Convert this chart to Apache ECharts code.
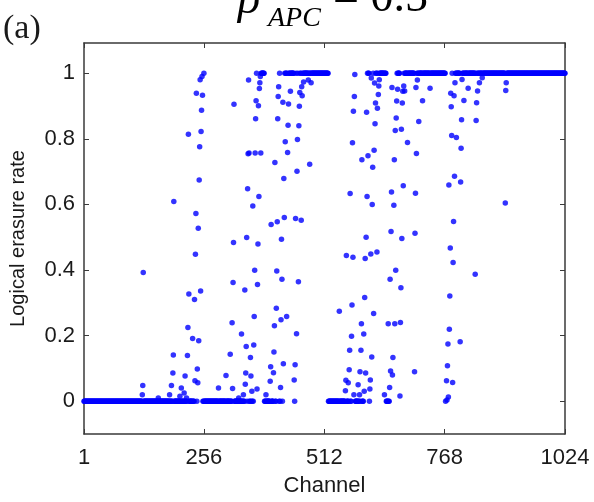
<!DOCTYPE html>
<html>
<head>
<meta charset="utf-8">
<script src="https://cdn.jsdelivr.net/npm/echarts@6/dist/echarts.min.js"></script>
<style>
  html, body { margin: 0; padding: 0; background: #fff; }
  #chart { width: 594px; height: 502px; }
</style>
</head>
<body>
<div id="chart"></div>
<script>
// Channel axis ticks and erasure-rate ticks
const channelTicks = [1, 256, 512, 768, 1024];
const rateTicks = [0, 0.2, 0.4, 0.6, 0.8, 1];

// Channel ranges whose logical erasure rate is 0 or 1
const zeroRuns = [[1, 244], [254, 363], [382, 425], [511, 597], [636, 650]];
const oneRuns = [[363, 384], [427, 520], [604, 643], [660, 769], [780, 1024]];

// Channels with an intermediate rate: [channel, rate]
const partialPoints = [
  [125, 0.02], [126, 0.048], [127, 0.392], [159, 0.01], [183, 0.02],
  [187, 0.048], [190, 0.086], [191, 0.141], [192, 0.609], [205, 0.015],
  [208, 0.040], [214, 0.025], [216, 0.077], [219, 0.01], [221, 0.139],
  [222, 0.225], [223, 0.814], [224, 0.327], [232, 0.191], [236, 0.310],
  [237, 0.062], [238, 0.448], [239, 0.572], [240, 0.939], [242, 0.098],
  [243, 0.056], [244, 0.527], [245, 0.184], [246, 0.674], [247, 0.776],
  [248, 0.98], [249, 0.336], [250, 0.822], [251, 0.887], [252, 0.99],
  [253, 0.933], [256, 1.0],
  [287, 0.040], [303, 0.078], [312, 0.143], [316, 0.239], [317, 0.039],
  [318, 0.362], [319, 0.484], [320, 0.905], [330, 0.01], [336, 0.205],
  [340, 0.02], [343, 0.339], [344, 0.052], [345, 0.086], [346, 0.167],
  [347, 0.499], [349, 0.648], [350, 0.754], [351, 0.979], [352, 0.757],
  [355, 0.133], [356, 0.077], [358, 0.03], [360, 0.595], [362, 0.171],
  [363, 0.258], [364, 0.399], [365, 0.757], [366, 0.861], [367, 0.916],
  [369, 0.037], [370, 0.356], [371, 0.479], [372, 0.901], [373, 0.624],
  [374, 0.953], [375, 0.971], [376, 0.99], [377, 0.757], [388, 0.02],
  [397, 0.061], [398, 0.105], [399, 0.539], [404, 0.087], [405, 0.150],
  [406, 0.230], [407, 0.728], [410, 0.283], [411, 0.397], [412, 0.547],
  [413, 0.861], [414, 0.929], [415, 0.959], [417, 1.0], [419, 0.042],
  [420, 0.248], [421, 0.494], [422, 0.372], [424, 0.911], [425, 0.114],
  [426, 0.679], [427, 0.560], [429, 0.791], [432, 0.258], [434, 0.758],
  [435, 0.841], [436, 0.906], [440, 0.945], [448, 0.065], [449, 0.0],
  [450, 0.111], [451, 0.557], [453, 0.206], [454, 0.701], [455, 0.798],
  [457, 0.364], [458, 0.840], [459, 0.899], [460, 0.941], [463, 0.552],
  [464, 0.959], [465, 0.931], [468, 0.973], [478, 0.979], [481, 0.722],
  [484, 0.971],
  [544, 0.274], [557, 0.032], [558, 0.064], [559, 0.444], [563, 0.056],
  [565, 0.096], [566, 0.155], [567, 0.633], [570, 0.198], [571, 0.293],
  [572, 0.788], [573, 0.439], [574, 0.884], [575, 0.02], [576, 0.929],
  [577, 0.996], [584, 0.050], [587, 0.02], [588, 0.090], [590, 0.155],
  [591, 0.236], [592, 0.736], [596, 0.205], [597, 0.030], [598, 0.316],
  [599, 0.435], [600, 0.086], [601, 0.500], [602, 0.881], [603, 0.624],
  [605, 0.748], [608, 0.0], [609, 0.037], [610, 0.065], [611, 0.449],
  [612, 0.985], [613, 0.135], [614, 0.600], [615, 0.713], [617, 0.267],
  [618, 0.765], [619, 0.97], [620, 0.846], [621, 0.909], [624, 0.455],
  [625, 0.893], [627, 0.935], [628, 0.961], [629, 0.98], [640, 0.02],
  [648, 0.236], [651, 0.042], [652, 0.372], [653, 0.092], [654, 0.517],
  [655, 0.638], [656, 0.956], [657, 0.080], [658, 0.133], [660, 0.597],
  [661, 0.736], [662, 0.236], [663, 0.825], [664, 0.399], [665, 0.863],
  [666, 0.915], [668, 0.951], [673, 0.016], [674, 0.240], [675, 0.346],
  [676, 0.829], [677, 0.496], [678, 0.909], [679, 0.945], [680, 0.657],
  [681, 0.961], [683, 0.946], [689, 0.789], [704, 0.090], [705, 0.512],
  [706, 0.634], [707, 0.956], [708, 0.755], [710, 0.979], [713, 0.853],
  [721, 0.916], [737, 0.954],
  [770, 0.0], [772, 0.062], [773, 0.004], [774, 0.108], [775, 0.174],
  [776, 0.013], [777, 0.659], [778, 0.219], [779, 0.321], [780, 0.467],
  [781, 0.939], [782, 0.898], [783, 0.810], [785, 0.057], [786, 0.423],
  [787, 0.548], [788, 0.931], [789, 0.686], [790, 0.971], [793, 0.804],
  [801, 0.181], [802, 0.668], [803, 0.771], [804, 0.858], [805, 0.981],
  [809, 0.917], [818, 0.954], [833, 0.387], [835, 0.856], [836, 0.910],
  [838, 0.946], [842, 0.971], [848, 0.986], [897, 0.604], [898, 0.947],
  [899, 0.971]
];

// One rate per channel: runs first, then the individually read channels
const rateByChannel = new Map();
zeroRuns.forEach(([a, b]) => { for (let c = a; c <= b; c++) rateByChannel.set(c, 0); });
oneRuns.forEach(([a, b]) => { for (let c = a; c <= b; c++) rateByChannel.set(c, 1); });
partialPoints.forEach(([c, v]) => rateByChannel.set(c, v));
const scatterData = Array.from(rateByChannel.entries()).sort((p, q) => p[0] - q[0]);

const chart = echarts.init(document.getElementById('chart'), null, { renderer: 'canvas' });

const frameColor = '#3a3a3a';
const labelFont = { fontFamily: 'Liberation Sans, Arial, sans-serif', fontSize: 22, color: '#1a1a1a' };

function frameAxis(extra) {
  return Object.assign({
    type: 'value',
    axisLine: { show: true, onZero: false, lineStyle: { color: frameColor, width: 1.5 } },
    splitLine: { show: false }
  }, extra);
}

chart.setOption({
  animation: false,
  backgroundColor: '#ffffff',
  grid: { left: 82, right: 29, top: 43, bottom: 62, containLabel: false },
  xAxis: [
    frameAxis({
      position: 'bottom', min: 1, max: 1024,
      name: 'Channel', nameLocation: 'middle', nameGap: 41,
      nameTextStyle: Object.assign({}, labelFont, { fontSize: 22 }),
      axisTick: { inside: true, length: 5, customValues: channelTicks, lineStyle: { color: frameColor } },
      axisLabel: Object.assign({ customValues: channelTicks, margin: 13, formatter: v => String(v) }, labelFont)
    }),
    frameAxis({
      position: 'top', min: 1, max: 1024,
      axisTick: { inside: true, length: 5, customValues: channelTicks, lineStyle: { color: frameColor } },
      axisLabel: { show: false }
    })
  ],
  yAxis: [
    frameAxis({
      position: 'left', min: -0.1, max: 1.092,
      name: 'Logical erasure rate', nameLocation: 'middle', nameGap: 56, nameRotate: 90,
      nameTextStyle: Object.assign({}, labelFont, { fontSize: 20 }),
      axisTick: { inside: true, length: 5, customValues: rateTicks, lineStyle: { color: frameColor } },
      axisLabel: Object.assign({ customValues: rateTicks, margin: 9, formatter: v => String(v) }, labelFont)
    }),
    frameAxis({
      position: 'right', min: -0.1, max: 1.092,
      axisTick: { inside: true, length: 5, customValues: rateTicks, lineStyle: { color: frameColor } },
      axisLabel: { show: false }
    })
  ],
  series: [{
    type: 'scatter',
    xAxisIndex: 0,
    yAxisIndex: 0,
    symbol: 'circle',
    symbolSize: 5.5,
    itemStyle: { color: '#0000ff' },
    data: scatterData
  }],
  graphic: [
    { type: 'text', left: 3, top: 12,
      style: { text: '(a)', font: '34px "Liberation Serif", serif', fill: '#1a1a1a' } },
    { type: 'text', x: 238, y: -22,
      style: { text: 'ρ', font: 'italic 46px "Liberation Serif", serif', fill: '#000' } },
    { type: 'text', x: 268, y: 5,
      style: { text: 'APC', font: 'italic 28px "Liberation Serif", serif', fill: '#000' } },
    { type: 'text', x: 333, y: -24,
      style: { text: '= 0.5', font: '46px "Liberation Serif", serif', fill: '#000' } }
  ]
});
</script>
</body>
</html>
